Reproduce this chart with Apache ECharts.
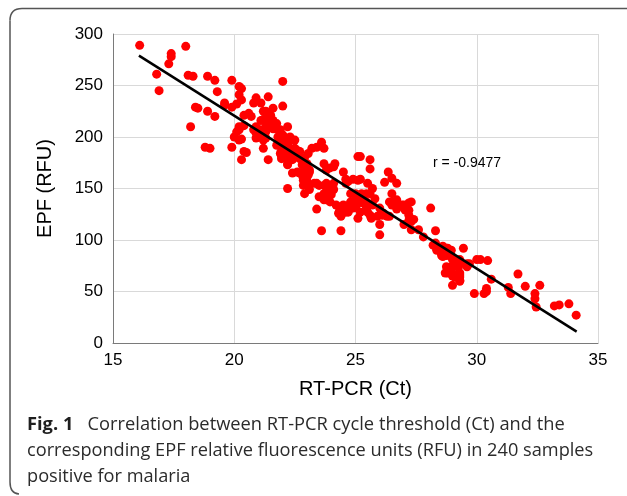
<!DOCTYPE html>
<html>
<head>
<meta charset="utf-8">
<script src="https://cdn.jsdelivr.net/npm/echarts@6/dist/echarts.min.js"></script>
<style>
html,body{margin:0;padding:0;background:#fff;}
#chart{width:627px;height:496px;}
</style>
</head>
<body>
<div id="chart"></div>
<script>
// RT-PCR cycle threshold (Ct) for each sample
var ctValues = [
16.1,16.8,16.9,17.3,17.4,17.4,18.0,18.1,18.3,18.2,18.4,18.5,18.8,18.9,18.9,19.0,19.2,19.2,19.3,19.6,
19.6,19.9,19.9,19.9,20.0,20.1,20.1,20.2,20.3,20.2,20.3,20.2,20.2,20.2,20.2,20.3,20.3,20.4,20.4,20.4,
20.5,20.6,20.7,20.8,20.8,20.85,20.9,20.9,20.9,20.9,21.0,21.05,21.1,21.1,21.2,21.2,21.2,21.2,21.3,21.3,
21.3,21.3,21.3,21.4,21.4,21.4,21.4,21.5,21.5,21.5,21.6,21.6,21.6,21.75,21.75,21.7,21.8,21.9,21.9,21.9,
21.95,21.95,21.95,21.95,22.0,22.0,22.0,22.1,22.1,22.1,22.2,22.2,22.2,22.2,22.2,22.2,22.2,22.3,22.3,22.3,
22.3,22.4,22.4,22.4,22.4,22.4,22.5,22.5,22.6,22.6,22.7,22.7,22.7,22.8,22.8,22.8,22.85,22.85,22.85,22.9,
22.9,22.9,23.0,23.0,23.05,23.05,23.05,23.1,23.1,23.1,23.2,23.3,23.4,23.4,23.4,23.5,23.5,23.6,23.6,23.7,
23.7,23.7,23.7,23.7,23.8,23.8,23.8,23.8,23.8,23.9,23.9,23.95,23.95,24.0,24.0,24.1,24.1,24.1,24.15,24.2,
24.3,24.35,24.35,24.4,24.4,24.5,24.5,24.6,24.6,24.6,24.7,24.7,24.7,24.8,24.8,24.8,24.9,24.9,25.0,25.0,
25.0,25.05,25.1,25.1,25.1,25.2,25.2,25.2,25.2,25.25,25.3,25.3,25.45,25.45,25.45,25.5,25.5,25.6,25.6,25.6,
25.6,25.65,25.7,25.7,25.8,25.9,26.0,26.0,26.0,26.1,26.15,26.2,26.3,26.35,26.4,26.4,26.5,26.5,26.5,26.5,
26.6,26.7,26.7,26.7,26.7,26.9,27.0,27.0,27.05,27.2,27.2,27.2,27.2,27.3,27.3,27.3,27.4,27.6,27.8,28.1,
28.2,28.3,28.3,28.35,28.35,28.4,28.5,28.55,28.55,28.6,28.6,28.6,28.7,28.7,28.75,28.75,28.75,28.75,28.8,28.8,
28.9,28.95,28.95,28.95,28.95,29.0,29.0,29.0,29.05,29.05,29.1,29.2,29.2,29.25,29.3,29.3,29.3,29.3,29.3,29.3,
29.3,29.45,29.6,29.6,29.7,29.9,30.0,30.15,30.3,30.4,30.4,30.45,30.6,31.3,31.4,31.7,32.0,32.4,32.4,32.45,
32.6,33.2,33.4,33.8,34.1
];
// EPF relative fluorescence units (RFU) for each sample
var rfuValues = [
289,261,245,271,281,278,288,260,259,210,229,228,190,259,225,189,255,220,244,233,
231,255,229,190,200,232,205,249,247,241,236,210,208,207,197,198,178,221,211,186,
185,223,220,233,207,208,238,210,204,199,200,207,233,216,225,217,197,189,224,225,
210,205,199,239,220,215,178,221,212,220,228,216,208,213,192,208,200,207,204,184,
187,181,179,194,254,230,202,199,197,181,210,194,192,187,173,174,150,200,199,189,
179,197,186,181,178,165,197,189,187,166,186,179,165,179,173,163,158,160,153,180,
168,145,174,157,163,152,184,166,168,149,189,155,190,155,130,153,142,195,109,189,
174,153,145,139,168,155,147,144,139,152,142,170,137,147,144,171,155,149,174,134,
126,129,132,123,109,166,134,159,155,127,157,131,127,145,137,136,159,131,145,139,
132,134,181,158,121,181,159,139,127,145,139,136,145,137,131,155,127,178,169,145,
124,121,150,134,140,123,131,115,105,124,126,156,123,166,137,123,160,145,136,134,
137,155,139,132,130,134,134,115,129,136,129,124,119,137,118,110,120,110,103,131,
95,109,97,92,90,93,89,87,85,94,90,84,87,68,92,89,85,74,92,68,
85,90,84,74,71,81,65,56,81,66,64,79,74,74,81,77,68,66,64,61,
60,92,77,74,77,48,81,81,48,50,53,80,62,54,48,67,55,48,43,35,
56,36,37,38,27
];
// Fitted regression line end points (Ct, RFU)
var fitCt = [16.07, 34.12];
var fitRfu = [279, 11];
var xTicks = [15, 20, 25, 30, 35];
var yTicks = [0, 50, 100, 150, 200, 250, 300];
var rText = 'r = -0.9477';
var xName = 'RT-PCR (Ct)';
var yName = 'EPF (RFU)';
var captionBold = 'Fig. 1';
var captionLine1 = 'Correlation between RT-PCR cycle threshold (Ct) and the';
var captionLine2 = 'corresponding EPF relative fluorescence units (RFU) in 240 samples';
var captionLine3 = 'positive for malaria';

var points = ctValues.map(function (c, i) { return [c, rfuValues[i]]; });
var fitLine = fitCt.map(function (c, i) { return [c, fitRfu[i]]; });

var chart = echarts.init(document.getElementById('chart'), null, {renderer: 'canvas'});
var axisFont = '"Liberation Sans", Arial, sans-serif';
var capFont = '"Open Sans", "Noto Sans", sans-serif';
var capColor = '#2b2b2b';
var frameStyle = {fill: 'none', stroke: '#555555', lineWidth: 1.5};
chart.setOption({
  backgroundColor: '#ffffff',
  animation: false,
  grid: {left: 113, right: 29, top: 34, bottom: 153, containLabel: false},
  xAxis: {
    type: 'value', min: xTicks[0], max: xTicks[xTicks.length - 1], interval: 5,
    name: xName, nameLocation: 'middle', nameGap: 36,
    nameTextStyle: {fontFamily: axisFont, fontSize: 20, color: '#000'},
    axisLine: {show: true, onZero: false, lineStyle: {color: '#7a7a7a', width: 1}},
    axisTick: {show: false},
    axisLabel: {fontFamily: axisFont, fontSize: 17, color: '#000', margin: 9},
    splitLine: {show: true, lineStyle: {color: '#d9d9d9', width: 1}}
  },
  yAxis: {
    type: 'value', min: yTicks[0], max: yTicks[yTicks.length - 1], interval: 50,
    name: yName, nameLocation: 'middle', nameGap: 58, nameRotate: 90,
    nameTextStyle: {fontFamily: axisFont, fontSize: 20, color: '#000'},
    axisLine: {show: true, onZero: false, lineStyle: {color: '#7a7a7a', width: 1}},
    axisTick: {show: false},
    axisLabel: {fontFamily: axisFont, fontSize: 17, color: '#000', margin: 10},
    splitLine: {show: true, lineStyle: {color: '#d9d9d9', width: 1}}
  },
  series: [
    {
      type: 'scatter', data: points, symbol: 'circle', symbolSize: 9,
      itemStyle: {color: '#ff0000', opacity: 1}, z: 2
    },
    {
      type: 'line', data: fitLine, symbol: 'none', z: 3,
      lineStyle: {color: '#000000', width: 2.5}
    }
  ],
  graphic: [
    {type: 'line', silent: true, shape: {x1: 22, y1: 8.5, x2: 627, y2: 8.5}, style: frameStyle},
    {type: 'bezierCurve', silent: true, shape: {x1: 22, y1: 8.5, cpx1: 10, cpy1: 8.5, x2: 10, y2: 20.5}, style: frameStyle},
    {type: 'line', silent: true, shape: {x1: 10, y1: 20.5, x2: 10, y2: 482}, style: frameStyle},
    {type: 'bezierCurve', silent: true, shape: {x1: 10, y1: 482, cpx1: 10, cpy1: 493.5, x2: 19, y2: 494}, style: frameStyle},
    {
      type: 'text', x: 433, y: 156,
      style: {text: rText, fontFamily: axisFont, fontSize: 14, fill: '#000'}
    },
    {
      type: 'text', x: 27, y: 425,
      style: {
        text: '{b|' + captionBold + '}   ' + captionLine1,
        fontFamily: capFont, fontSize: 18.3, fill: capColor, verticalAlign: 'middle',
        rich: {b: {fontFamily: capFont, fontSize: 18.3, fontWeight: 'bold', fill: '#1f1f1f'}}
      }
    },
    {
      type: 'text', x: 27, y: 451,
      style: {text: captionLine2, fontFamily: capFont, fontSize: 18.2, fill: capColor, verticalAlign: 'middle'}
    },
    {
      type: 'text', x: 27, y: 477,
      style: {text: captionLine3, fontFamily: capFont, fontSize: 18.2, fill: capColor, verticalAlign: 'middle'}
    }
  ]
});
</script>
</body>
</html>
